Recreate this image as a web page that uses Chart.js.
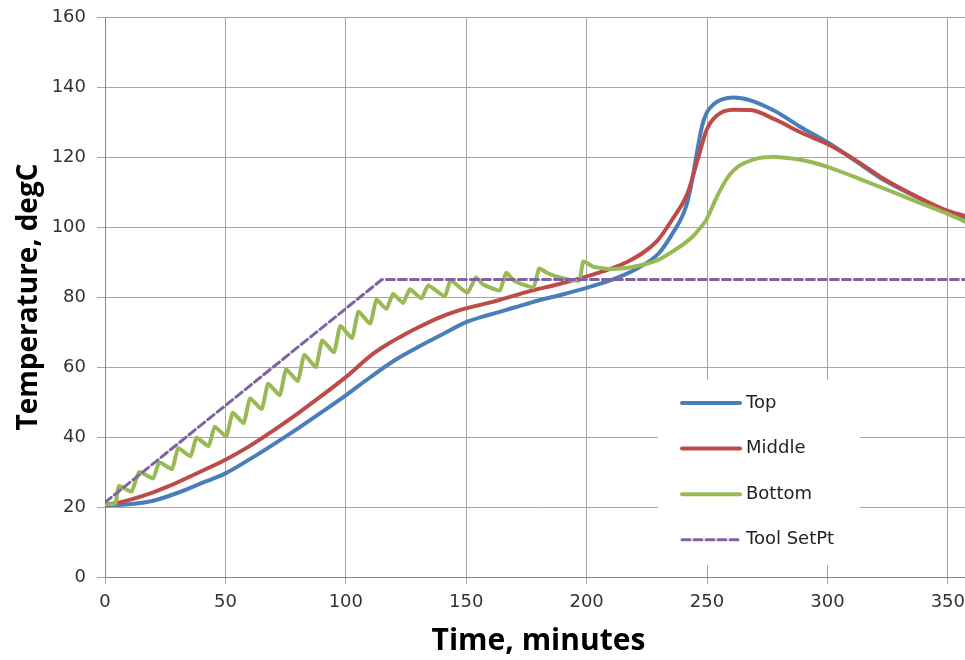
<!DOCTYPE html>
<html>
<head>
<meta charset="utf-8">
<script src="https://cdn.jsdelivr.net/npm/chart.js@4.4.1/dist/chart.umd.min.js"></script>
<style>
html, body { margin: 0; padding: 0; background: #fff; overflow: hidden; }
</style>
</head>
<body>
<canvas id="myChart" width="973" height="660"></canvas>
<script>
// series values (minutes, degC)
const topTime = [0, 10, 20, 30, 40, 50, 60, 70, 80, 90, 100, 110, 120, 130, 140, 150, 160, 170, 180, 190, 200, 210, 220, 230, 236, 240, 242, 244, 246, 248, 250, 253, 256, 261, 268, 278, 289, 300, 311, 323.5, 337, 350, 358];
const topTemp = [20.5, 20.8, 21.8, 24.0, 26.8, 29.6, 33.6, 37.9, 42.4, 47.1, 51.9, 57.0, 61.8, 65.7, 69.3, 72.8, 75.0, 77.0, 79.0, 80.7, 82.6, 84.8, 87.8, 92.5, 98.5, 103.5, 107.5, 114, 122, 129, 132.8, 135.2, 136.4, 137.0, 136.2, 133.2, 128.5, 124.2, 119.2, 113.4, 108.6, 104.3, 102.2];

const middleTime = [0, 4, 12, 20, 26, 30, 40, 50, 60, 70, 80, 90, 100, 111, 120, 125, 130, 139, 147, 152, 161, 175, 189, 202.6, 216.5, 229, 236, 242, 246, 250, 254, 261, 268, 278, 289, 300, 311, 323.5, 337, 350, 358];
const middleTemp = [20.7, 21.0, 22.4, 24.2, 25.8, 27.0, 30.2, 33.5, 37.4, 41.9, 46.7, 51.8, 57.1, 63.6, 67.6, 69.5, 71.3, 74.2, 76.2, 77.1, 78.6, 81.4, 83.8, 86.4, 89.9, 95.8, 102.6, 109.8, 119, 128, 131.8, 133.5, 133.4, 130.8, 127, 123.7, 119.4, 113.7, 108.7, 104.6, 103.0];

const bottomTime = [0, 4.3, 5.8, 11.0, 14.2, 20.0, 22.5, 27.8, 30.4, 35.5, 38.0, 43.0, 45.6, 50.4, 53.0, 57.6, 60.2, 65.1, 67.7, 72.6, 75.2, 80.1, 82.7, 87.6, 90.2, 95.1, 97.7, 102.6, 105.2, 110.1, 112.7, 116.9, 119.6, 123.8, 126.6, 131.4, 134.2, 141.1, 143.5, 150.5, 154.0, 157.0, 163.9, 166.6, 170.0, 177.9, 180.3, 183.3, 188.8, 196.9, 198.6, 202.6, 209.5, 216.5, 223.4, 230.3, 237.5, 244.1, 249.7, 254.0, 258.4, 262.0, 265.3, 271.0, 277.7, 288.9, 300.0, 311.0, 323.5, 337.3, 349.7, 358.0];
const bottomTemp = [20.8, 21.0, 26.0, 24.4, 30.0, 28.2, 32.8, 30.8, 36.8, 34.5, 39.8, 37.4, 42.9, 40.2, 46.9, 44.0, 51.0, 48.0, 55.2, 52.0, 59.3, 56.0, 63.4, 60.0, 67.6, 64.2, 71.7, 68.3, 75.8, 72.4, 79.2, 76.6, 80.9, 78.3, 82.2, 79.6, 83.3, 80.2, 84.7, 81.2, 85.6, 83.6, 81.9, 86.9, 84.6, 82.8, 88.2, 87.0, 85.6, 84.7, 90.2, 88.7, 88.0, 88.3, 89.2, 90.8, 93.8, 97.3, 102.0, 108.5, 114.0, 116.8, 118.2, 119.6, 120.1, 119.2, 117.2, 114.4, 111.0, 107.2, 103.8, 101.3];

const setPtTime = [0, 115, 358];
const setPtTemp = [21.3, 85, 85];

const seriesNames = ['Top', 'Middle', 'Bottom', 'Tool SetPt'];
const xTicks = [0, 50, 100, 150, 200, 250, 300, 350];

function points(xs, ys) {
	return xs.map((x, i) => ({x: x, y: ys[i]}));
}

// legend drawn inside the plot on a white box, like the original
const insideLegend = {
	id: 'insideLegend',
	afterDraw(chart) {
		const ctx = chart.ctx;
		ctx.save();
		ctx.fillStyle = '#ffffff';
		ctx.fillRect(658, 380, 202, 185);
		ctx.font = '18px "DejaVu Sans"';
		ctx.textBaseline = 'middle';
		chart.data.datasets.forEach((ds, i) => {
			const y = 403 + i * 45.6;
			ctx.strokeStyle = ds.borderColor;
			ctx.lineWidth = ds.borderWidth;
			ctx.lineCap = 'round';
			ctx.setLineDash(ds.borderDash || []);
			ctx.beginPath();
			ctx.moveTo(682, y);
			ctx.lineTo(740, y);
			ctx.stroke();
			ctx.fillStyle = '#222';
			ctx.fillText(ds.label, 746, y);
		});
		ctx.restore();
	}
};

const ctx = document.getElementById('myChart').getContext('2d');
new Chart(ctx, {
	type: 'line',
	data: {
		datasets: [
			{
				label: seriesNames[0],
				data: points(topTime, topTemp),
				borderColor: '#4a7ebb',
				borderWidth: 4,
				cubicInterpolationMode: 'monotone',
				order: 4
			},
			{
				label: seriesNames[1],
				data: points(middleTime, middleTemp),
				borderColor: '#be4b48',
				borderWidth: 4,
				cubicInterpolationMode: 'monotone',
				order: 3
			},
			{
				label: seriesNames[2],
				data: points(bottomTime, bottomTemp),
				borderColor: '#98b954',
				borderWidth: 4,
				tension: 0.15,
				order: 2
			},
			{
				label: seriesNames[3],
				data: points(setPtTime, setPtTemp),
				borderColor: '#7f63a1',
				borderWidth: 3,
				borderDash: [8, 4],
				order: 1
			}
		]
	},
	options: {
		responsive: false,
		animation: false,
		layout: { padding: { top: 17, left: 0, right: 0, bottom: 0 } },
		elements: {
			point: { radius: 0 },
			line: { fill: false, borderCapStyle: 'round', borderJoinStyle: 'round' }
		},
		plugins: {
			legend: { display: false },
			tooltip: { enabled: false },
			title: { display: false }
		},
		scales: {
			x: {
				type: 'linear',
				min: 0,
				max: 360,
				afterBuildTicks: (scale) => {
					scale.ticks = xTicks.map(v => ({value: v}));
				},
				afterFit: (scale) => { scale.height = 83; },
				grid: { color: '#a6a6a6', lineWidth: 1, tickLength: 7 },
				border: { color: '#868686', width: 1 },
				ticks: {
					font: { family: 'DejaVu Sans', size: 18 },
					color: '#333',
					padding: 8,
					maxRotation: 0
				},
				title: {
					display: true,
					text: 'Time, minutes',
					font: { family: 'Open Sans', size: 30, weight: 'bold' },
					color: '#000',
					padding: { top: 0, bottom: 1 }
				}
			},
			y: {
				min: 0,
				max: 160,
				afterFit: (scale) => {
					scale.width = 105;
					scale.paddingTop = 0;
				},
				grid: { color: '#a6a6a6', lineWidth: 1, tickLength: 8 },
				border: { color: '#868686', width: 1 },
				ticks: {
					stepSize: 20,
					font: { family: 'DejaVu Sans', size: 18 },
					color: '#333',
					padding: 11
				},
				title: {
					display: true,
					text: 'Temperature, degC',
					font: { family: 'Open Sans', size: 28, weight: 'bold' },
					color: '#000',
					padding: { top: 12, bottom: 0 }
				}
			}
		}
	},
	plugins: [insideLegend]
});
</script>
</body>
</html>
